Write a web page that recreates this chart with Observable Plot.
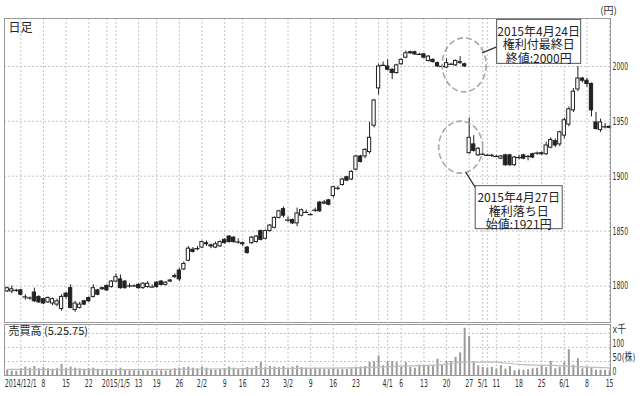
<!DOCTYPE html>
<html><head><meta charset="utf-8">
<script src="https://cdn.jsdelivr.net/npm/d3@7"></script>
<script src="https://cdn.jsdelivr.net/npm/@observablehq/plot@0.6"></script>
<style>
body{margin:0;background:#fff;}
#chart{position:relative;width:640px;height:396px;overflow:hidden;background:#fff;}
#chart svg{position:absolute;left:0;}
</style></head><body><div id="chart"></div>
<script>
const dates = [
"2014/11/26","2014/11/27","2014/11/28",
"2014/12/1","2014/12/2","2014/12/3","2014/12/4","2014/12/5",
"2014/12/8","2014/12/9","2014/12/10","2014/12/11","2014/12/12",
"2014/12/15","2014/12/16","2014/12/17","2014/12/18","2014/12/19",
"2014/12/22","2014/12/24","2014/12/25","2014/12/26","2014/12/29","2014/12/30",
"2015/1/5","2015/1/6","2015/1/7","2015/1/8","2015/1/9",
"2015/1/13","2015/1/14","2015/1/15","2015/1/16",
"2015/1/19","2015/1/20","2015/1/21","2015/1/22","2015/1/23",
"2015/1/26","2015/1/27","2015/1/28","2015/1/29","2015/1/30",
"2015/2/2","2015/2/3","2015/2/4","2015/2/5","2015/2/6",
"2015/2/9","2015/2/10","2015/2/12","2015/2/13",
"2015/2/16","2015/2/17","2015/2/18","2015/2/19","2015/2/20",
"2015/2/23","2015/2/24","2015/2/25","2015/2/26","2015/2/27",
"2015/3/2","2015/3/3","2015/3/4","2015/3/5","2015/3/6",
"2015/3/9","2015/3/10","2015/3/11","2015/3/12","2015/3/13",
"2015/3/16","2015/3/17","2015/3/18","2015/3/19","2015/3/20",
"2015/3/23","2015/3/24","2015/3/25","2015/3/26","2015/3/27",
"2015/3/30","2015/3/31",
"2015/4/1","2015/4/2","2015/4/3",
"2015/4/6","2015/4/7","2015/4/8","2015/4/9","2015/4/10",
"2015/4/13","2015/4/14","2015/4/15","2015/4/16","2015/4/17",
"2015/4/20","2015/4/21","2015/4/22","2015/4/23","2015/4/24",
"2015/4/27","2015/4/28","2015/4/30",
"2015/5/1","2015/5/7","2015/5/8",
"2015/5/11","2015/5/12","2015/5/13","2015/5/14","2015/5/15",
"2015/5/18","2015/5/19","2015/5/20","2015/5/21","2015/5/22",
"2015/5/25","2015/5/26","2015/5/27","2015/5/28","2015/5/29",
"2015/6/1","2015/6/2","2015/6/3","2015/6/4","2015/6/5",
"2015/6/8","2015/6/9","2015/6/10","2015/6/11","2015/6/12",
"2015/6/15"];

const open = [1795,1795,1796,1796,1790,1789,1794,1790,1788,1785,1784,1783,1779,1793,1798,1778,1780,1786,1789,1790,1796,1797,1800,1799,
1804,1806,1804,1800,1800,1801,1798,1799,1799,1803,1804,1801,1804,1808,1814,1815,1823,1833,1834,
1835,1839,1837,1835,1836,1842,1845,1844,1840,1839,1835,1839,1840,1850,1843,1850,1853,1862,1870,
1860,1860,1857,1864,1867,1865,1869,1876,1875,1878,1882,1889,1892,1899,1897,1906,1918,1918,1922,1946,1980,2001,
2000,1997,1994,2002,2008,2013,2013,2011,2011,2005,2006,2003,2000,1999,2002,2001,2003,2002,1921,1929,1919,
1920,1919,1919,1918,1916,1919,1919,1910,1917,1919,1918,1920,1921,1920,1920,1926,1932,1929,
1937,1947,1960,1979,1989,1987,1984,1949,1942,1945,1945];
const high = [1799,1800,1797,1797,1792,1790,1798,1791,1789,1790,1789,1788,1792,1794,1801,1786,1785,1787,1790,1801,1797,1799,1801,1805,
1811,1810,1805,1802,1801,1802,1803,1804,1801,1804,1805,1804,1806,1811,1816,1822,1836,1835,1836,
1841,1841,1838,1840,1841,1843,1846,1845,1843,1840,1836,1845,1846,1851,1851,1856,1863,1869,1872,
1863,1861,1871,1870,1869,1866,1871,1877,1878,1879,1891,1891,1898,1900,1905,1919,1919,1925,1949,1970,2002,2004,
2006,1998,2002,2007,2014,2014,2014,2012,2012,2010,2007,2004,2001,2007,2003,2006,2009,2003,1953,1937,1926,
1921,1920,1920,1919,1919,1920,1920,1918,1919,1920,1919,1921,1922,1922,1931,1935,1934,1941,
1953,1963,1980,2000,1990,1989,1985,1958,1952,1948,1946];
const low = [1794,1793,1794,1791,1787,1787,1785,1784,1783,1784,1782,1781,1777,1788,1779,1776,1779,1782,1785,1789,1791,1796,1795,1798,
1803,1797,1797,1798,1799,1797,1797,1798,1798,1798,1800,1800,1803,1807,1804,1814,1822,1830,1832,
1834,1836,1834,1834,1835,1838,1839,1839,1838,1836,1829,1838,1839,1841,1842,1849,1852,1861,1862,
1858,1856,1854,1863,1866,1864,1867,1867,1874,1873,1880,1887,1891,1895,1896,1905,1912,1916,1920,1944,1974,2000,
1996,1988,1993,2001,2007,2011,2010,2010,2007,2004,2003,1999,1999,1998,2001,2000,2002,1999,1920,1922,1918,
1919,1918,1917,1917,1915,1909,1909,1909,1915,1915,1914,1916,1919,1919,1919,1925,1926,1927,
1934,1945,1958,1977,1985,1981,1954,1942,1940,1943,1943];
const close = [1798,1797,1796,1792,1790,1789,1786,1785,1784,1789,1788,1786,1790,1790,1780,1784,1783,1783,1786,1798,1792,1798,1796,1804,
1808,1798,1798,1800,1800,1798,1802,1802,1799,1799,1801,1803,1805,1809,1806,1820,1834,1831,1834,
1840,1838,1836,1838,1840,1839,1840,1840,1840,1838,1830,1844,1845,1842,1850,1855,1862,1868,1864,
1860,1857,1866,1869,1867,1865,1869,1868,1876,1874,1890,1889,1897,1896,1904,1918,1913,1924,1935,1969,2000,2001,
1997,1994,2001,2006,2012,2012,2011,2011,2008,2009,2004,2000,2000,2003,2002,2005,2004,2000,1935,1923,1925,
1920,1919,1919,1918,1918,1910,1910,1917,1917,1916,1918,1917,1921,1921,1928,1933,1928,1940,
1951,1961,1977,1989,1987,1984,1960,1943,1949,1945,1944];
// 売買高 (千株)
const volume = [18,16,15,24,30,26,32,24,28,24,22,24,40,26,30,26,24,22,24,26,22,19,17,17,
19,26,19,17,17,16,17,16,17,16,17,16,18,24,26,28,30,26,24,
30,26,21,19,21,24,30,26,21,24,28,26,32,46,28,32,30,28,32,
26,30,34,28,26,24,26,24,21,21,24,21,21,21,24,29,30,32,46,48,70,35,
48,50,46,29,46,30,26,37,35,35,35,58,35,49,50,65,81,168,139,49,35,
29,27,29,23,35,23,32,17,18,19,21,24,26,32,28,50,24,29,
46,92,37,60,24,29,26,19,19,18,16];
// 出来高移動平均線 (読み取り点: 日付, 千株)
const maDates = ["2014/11/26","2015/1/9","2015/2/20","2015/3/23","2015/4/7","2015/4/20","2015/4/24","2015/5/8","2015/5/18","2015/5/27","2015/6/5","2015/6/15"];
const maValues = [22,21,25,27,34,40,48,48,40,36,31,27];

const priceTicks = [1800,1850,1900,1950,2000];
const volTicks = [0,50,100,150];
const volTickLabels = ["0","50(株)","100","x千"];
const gridDates = ["2014/12/1","2014/12/8","2014/12/15","2014/12/22","2014/12/29","2015/1/5","2015/1/13","2015/1/19","2015/1/26",
"2015/2/2","2015/2/9","2015/2/16","2015/2/23","2015/3/2","2015/3/9","2015/3/16","2015/3/23","2015/3/30","2015/4/1","2015/4/6",
"2015/4/13","2015/4/20","2015/4/27","2015/5/1","2015/5/7","2015/5/11","2015/5/18","2015/5/25","2015/6/1","2015/6/8","2015/6/15"];
const tickDates = ["2014/12/1","2014/12/8","2014/12/15","2014/12/22","2015/1/5","2015/1/13","2015/1/19","2015/1/26",
"2015/2/2","2015/2/9","2015/2/16","2015/2/23","2015/3/2","2015/3/9","2015/3/16","2015/3/23","2015/4/1","2015/4/6",
"2015/4/13","2015/4/20","2015/4/27","2015/5/1","2015/5/11","2015/5/18","2015/5/25","2015/6/1","2015/6/8","2015/6/15"];
const tickLabels = ["2014/12/1","8","15","22","2015/1/5","13","19","26","2/2","9","16","23","3/2","9","16","23","4/1","6",
"13","20","27","5/1","11","18","25","6/1","8","15"];

const notes = [
  {date:"2015/4/24", price:2001, lines:["2015年4月24日","権利付最終日","終値:2000円"]},
  {date:"2015/4/27", price:1926, lines:["2015年4月27日","権利落ち日","始値:1921円"]}
];

const data = dates.map((d,i)=>({i, date:d, o:open[i], h:high[i], l:low[i], c:close[i], v:volume[i]}));
const idx = d => dates.indexOf(d);
const gridIdx = gridDates.map(idx);
const tickIdx = tickDates.map(idx);
const maData = maDates.map((d,k)=>({i:idx(d), v:maValues[k]}));

const numFont = "'DejaVu Sans Condensed','DejaVu Sans','Noto Sans CJK JP',sans-serif";
const jpFont = "'Noto Sans CJK JP',sans-serif";
const xDomain = [-0.6, 133.2];
const ink = "#222";
const gridStyle = {stroke:"#c4c4c4", strokeDasharray:"2,2", strokeWidth:1};
const hw = 0.36;

const main = Plot.plot({
  width:640, height:322, marginTop:18, marginBottom:0, marginLeft:4, marginRight:30,
  x:{domain:xDomain, axis:null},
  y:{domain:[1766.7,2043.7], axis:null},
  style:{fontFamily:numFont, fontSize:"11px", background:"transparent", overflow:"visible", color:"#333"},
  marks:[
    Plot.ruleY(priceTicks, gridStyle),
    Plot.ruleX(gridIdx, gridStyle),
    Plot.ruleX(data, {x:"i", y1:"l", y2:"h", stroke:ink, strokeWidth:1}),
    Plot.rect(data.filter(d=>d.o!==d.c), {x1:d=>d.i-hw, x2:d=>d.i+hw, y1:d=>Math.min(d.o,d.c), y2:d=>Math.max(d.o,d.c),
      fill:d=>d.c>d.o?"#fff":ink, stroke:ink, strokeWidth:1}),
    Plot.ruleY(data.filter(d=>d.o===d.c), {x1:d=>d.i-hw-0.2, x2:d=>d.i+hw+0.2, y:"c", stroke:ink, strokeWidth:1.2}),
    Plot.frame({stroke:"#999"}),
    Plot.text(priceTicks, {y:d=>d, text:d=>String(d), frameAnchor:"right", dx:2, textAnchor:"start", fill:"#333"}),
    Plot.text(["(円)"], {frameAnchor:"top-right", dx:-2, dy:-8, textAnchor:"middle", lineAnchor:"middle", fontFamily:jpFont, fontSize:10, fill:"#333"}),
    Plot.text(["日足"], {frameAnchor:"top-left", dx:4, dy:5, fontFamily:jpFont, fontSize:12, fill:"#222"})
  ]
});
main.style.top = "0px";

const vol = Plot.plot({
  width:640, height:74, marginTop:2, marginBottom:21, marginLeft:4, marginRight:30,
  x:{domain:xDomain, axis:null},
  y:{domain:[0,182], axis:null},
  style:{fontFamily:numFont, fontSize:"11px", background:"transparent", overflow:"visible", color:"#333"},
  marks:[
    Plot.ruleY([50,100,150], gridStyle),
    Plot.ruleX(gridIdx, gridStyle),
    Plot.ruleX(data, {x:"i", y1:0, y2:"v", stroke:"#9a9a9a", strokeWidth:2}),
    Plot.line(maData, {x:"i", y:"v", stroke:"#bdbdbd", strokeWidth:1.2, curve:"monotone-x"}),
    Plot.frame({stroke:"#999"}),
    Plot.text(volTicks, {y:d=>d, text:(d,k)=>volTickLabels[k], frameAnchor:"right", dx:2, dy:-4, textAnchor:"start", fill:"#333"}),
    Plot.text(tickIdx, {x:d=>d, text:(d,k)=>tickLabels[k], frameAnchor:"bottom", lineAnchor:"top", dy:4, fill:"#333"}),
    Plot.text(["売買高 (5.25.75)"], {frameAnchor:"top-left", dx:4, dy:3, fontFamily:jpFont, fontSize:11, fill:"#222"})
  ]
});
vol.style.top = "322px";

const root = document.getElementById("chart");
root.appendChild(main);
root.appendChild(vol);

// condensed number labels (reference uses a condensed face)
const charW = ch => /[0-9]/.test(ch) ? 3.9 : ch === "/" ? 2.4 : ch === "." ? 1.8 : /[()]/.test(ch) ? 2.5 : ch === "x" ? 3.6 : ch === " " ? 2.2 : 10;
[main, vol].forEach(s => s.querySelectorAll("text").forEach(t => {
  const s2 = t.textContent;
  if (!/^[0-9x千株()\/]+$/.test(s2)) return;
  let w = 0; for (const ch of s2) w += charW(ch);
  t.setAttribute("textLength", w.toFixed(1));
  t.setAttribute("lengthAdjust", "spacingAndGlyphs");
}));

// annotations
const xs = main.scale("x"), ys = main.scale("y");
const svg = d3.select(main);
const g = svg.append("g").attr("font-family", jpFont).attr("font-size", 12).attr("fill", "#222");
const layout = [
  {rx:22, ry:27, dx:0, box:{x:32.5, y:-45.5, w:84, h:44}, link:[[18,-12],[32.5,-18]]},
  {rx:22, ry:26, dx:-8, box:{x:14.5, y:38.5, w:87, h:43}, link:[[5,25],[15,41]]}
];
notes.forEach((n,k)=>{
  const L = layout[k];
  const cx = xs.apply(idx(n.date)) + L.dx, cy = ys.apply(n.price);
  g.append("ellipse").attr("cx",cx).attr("cy",cy).attr("rx",L.rx).attr("ry",L.ry)
    .attr("fill","none").attr("stroke","#a8a8a8").attr("stroke-width",1.6).attr("stroke-dasharray","6,3");
  g.append("line").attr("x1",cx+L.link[0][0]).attr("y1",cy+L.link[0][1]).attr("x2",cx+L.link[1][0]).attr("y2",cy+L.link[1][1])
    .attr("stroke","#333").attr("stroke-width",1.2);
  g.append("rect").attr("x",cx+L.box.x).attr("y",cy+L.box.y).attr("width",L.box.w).attr("height",L.box.h)
    .attr("fill","#fff").attr("stroke","#555").attr("stroke-width",1);
  n.lines.forEach((t,j)=>{
    g.append("text").attr("x",cx+L.box.x+L.box.w/2).attr("y",cy+L.box.y+11+j*13.5)
      .attr("text-anchor","middle").attr("dominant-baseline","central").text(t);
  });
});
</script></body></html>
